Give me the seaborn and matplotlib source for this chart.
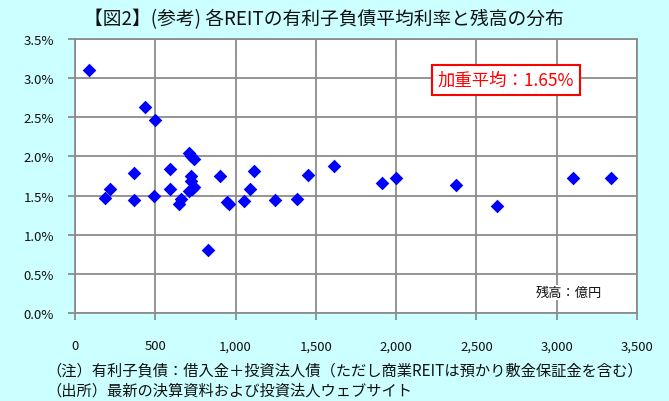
import matplotlib
matplotlib.use("Agg")
import matplotlib.pyplot as plt
import matplotlib.ticker as mticker
import seaborn as sns
import pandas as pd

# 各REITの有利子負債残高（億円）と平均利率（%）
balance = [90, 433, 496, 709, 722, 738, 366, 593, 721, 724, 900, 1112, 1451,
           1611, 1914, 221, 188, 370, 491, 590, 661, 645, 726, 744, 713, 948,
           958, 1050, 1087, 1245, 1380, 831, 2002, 2374, 2627, 3103, 3340]
rate = [3.10, 2.63, 2.47, 2.04, 2.01, 1.97, 1.79, 1.84, 1.75, 1.69, 1.75, 1.82,
        1.76, 1.88, 1.66, 1.59, 1.47, 1.44, 1.49, 1.59, 1.46, 1.39, 1.58, 1.61,
        1.56, 1.42, 1.39, 1.43, 1.58, 1.44, 1.45, 0.80, 1.72, 1.63, 1.37, 1.72,
        1.72]

weighted_avg = 1.65
x_ticks = [0, 500, 1000, 1500, 2000, 2500, 3000, 3500]
y_ticks = [0.0, 0.5, 1.0, 1.5, 2.0, 2.5, 3.0, 3.5]

title = "【図2】(参考) 各REITの有利子負債平均利率と残高の分布"
unit_label = "残高：億円"
note1 = "（注）有利子負債：借入金＋投資法人債（ただし商業REITは預かり敷金保証金を含む）"
note2 = "（出所）最新の決算資料および投資法人ウェブサイト"

sns.set_theme(style="white")
plt.rcParams["font.family"] = ["Noto Sans CJK JP", "DejaVu Sans"]

bg = "#CCFFFF"
grid_c = "#8C8C8C"

df = pd.DataFrame({"balance": balance, "rate": rate})

fig = plt.figure(figsize=(6.69, 4.02), dpi=100, facecolor=bg)
ax = fig.add_axes([75 / 669, 1 - 314 / 402, (637 - 75) / 669, (314 - 40) / 402])
ax.set_facecolor("white")

sns.scatterplot(data=df, x="balance", y="rate", marker="D", s=48,
                color="#0000FF", edgecolor="#0000FF", linewidth=0,
                ax=ax, zorder=3, legend=False)

ax.set_xlim(0, 3500)
ax.set_ylim(0, 3.5)
ax.set_xticks(x_ticks)
ax.set_yticks(y_ticks)
ax.xaxis.set_major_formatter(mticker.FuncFormatter(lambda v, p: f"{int(v):,}"))
ax.yaxis.set_major_formatter(mticker.FuncFormatter(lambda v, p: f"{v:.1f}%"))
ax.grid(True, color=grid_c, linewidth=1.3)
ax.set_axisbelow(True)
for s in ax.spines.values():
    s.set_color(grid_c)
    s.set_linewidth(1.3)
ax.tick_params(axis="both", which="major", direction="out", length=5,
               width=1.3, color=grid_c, labelsize=9.5, labelcolor="#111111",
               left=True, bottom=True)
ax.tick_params(axis="y", pad=10)
ax.tick_params(axis="x", pad=14)
ax.set_xlabel("")
ax.set_ylabel("")

ax.text(2683, 2.98, f"加重平均：{weighted_avg:.2f}%", color="#FF0000",
        fontsize=12.5, ha="center", va="center", zorder=5,
        bbox=dict(boxstyle="square,pad=0.35", facecolor="white",
                  edgecolor="#FF0000", linewidth=1.5))
ax.text(3076, 0.26, unit_label, color="#111111", fontsize=9.5,
        ha="center", va="center", zorder=5,
        bbox=dict(boxstyle="square,pad=0.1", facecolor="white",
                  edgecolor="none"))

fig.text(84 / 669, 1 - 20 / 402, title, fontsize=13.5, ha="left", va="center",
         color="#111111")
fig.text(46 / 669, 1 - 371 / 402, note1, fontsize=11, ha="left", va="center",
         color="#111111")
fig.text(46 / 669, 1 - 391 / 402, note2, fontsize=11, ha="left", va="center",
         color="#111111")

fig.savefig("out.png", dpi=100, facecolor=bg)
